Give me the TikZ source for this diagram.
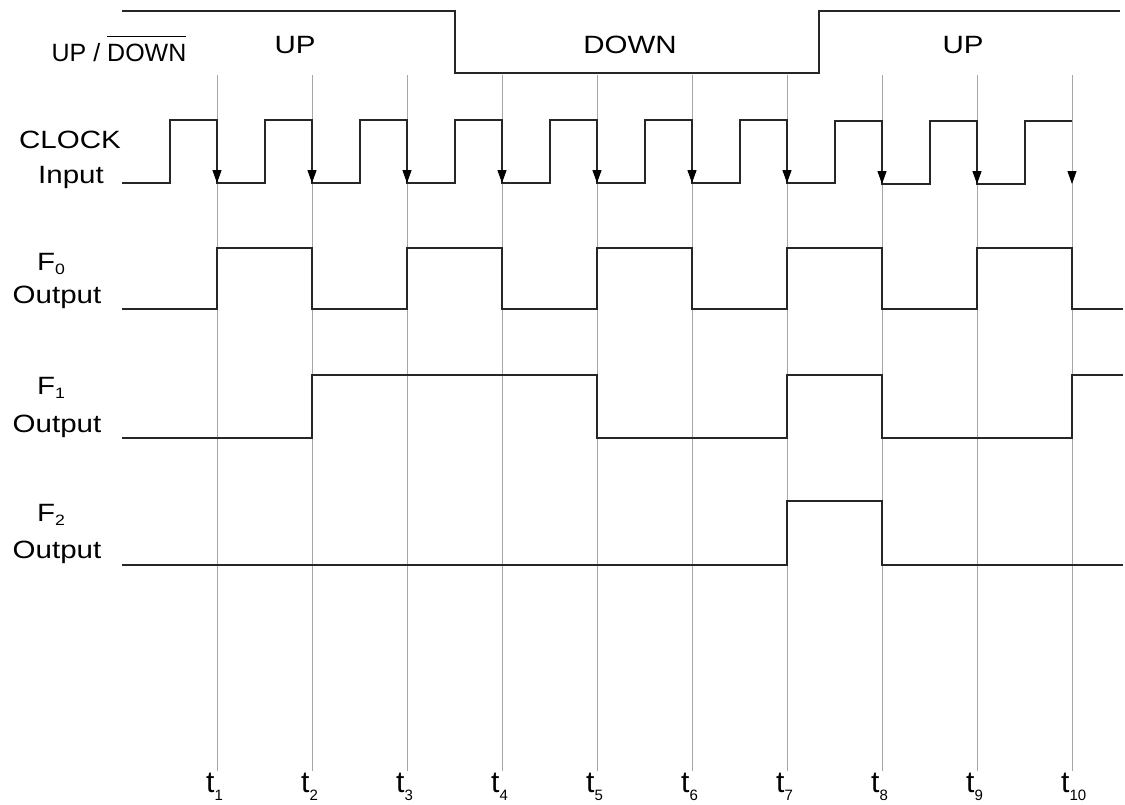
\documentclass[tikz,border=0pt]{standalone}
\usepackage{fontspec}
\setmainfont{Liberation Sans}
\newfontfamily\widefont{Liberation Sans}[FakeStretch=1.18]
\usetikzlibrary{arrows.meta}

\newcommand{\tsub}[2]{\raisebox{-#1}{\fontsize{15}{15}\selectfont #2}}
\newcommand{\ovl}[1]{\vbox{\hrule height 1.2pt\kern 6.5pt\hbox{#1}}}

\begin{document}
\begin{tikzpicture}[
  x=1pt, y=-1pt,
  every node/.style={inner sep=0pt},
  % Styles
  wave/.style={line width=1.2pt, color=black!85},
  tline/.style={line width=0.9pt, color=black!35},
  clkarr/.style={-{Triangle[length=13pt, width=9pt, black]}, line width=1.2pt, color=black!85},
  siglbl/.style={font=\widefont\fontsize{25}{28}\selectfont, anchor=base},
  flbl/.style={font=\widefont\fontsize{25}{28}\selectfont, anchor=base west},
  udlbl/.style={font=\fontsize{25}{28}\selectfont, anchor=base},
  tlbl/.style={font=\fontsize{30}{32}\selectfont, anchor=base west},
]
  \useasboundingbox (0,0) rectangle (1125,804);

  % ── TIME MARKERS ──────────────────────────────────────────
  \draw[tline] (217,75) -- (217,771) (312,75) -- (312,771) (407,75) -- (407,771)
    (502,75) -- (502,771) (597,75) -- (597,771) (692,75) -- (692,771)
    (787,75) -- (787,771) (882,75) -- (882,771) (977,75) -- (977,771)
    (1072,75) -- (1072,771);

  \node[tlbl] (t1) at (206,792) {t\tsub{8pt}{1}};
  \node[tlbl] (t2) at (301,792) {t\tsub{8pt}{2}};
  \node[tlbl] (t3) at (396,792) {t\tsub{8pt}{3}};
  \node[tlbl] (t4) at (491,792) {t\tsub{8pt}{4}};
  \node[tlbl] (t5) at (586,792) {t\tsub{8pt}{5}};
  \node[tlbl] (t6) at (681,792) {t\tsub{8pt}{6}};
  \node[tlbl] (t7) at (776,792) {t\tsub{8pt}{7}};
  \node[tlbl] (t8) at (871,792) {t\tsub{8pt}{8}};
  \node[tlbl] (t9) at (966,792) {t\tsub{8pt}{9}};
  \node[tlbl] (t10) at (1061,792) {t\tsub{8pt}{10}};

  % ── UP / DOWN CONTROL ─────────────────────────────────────
  \node[udlbl] (updown) at (119,61) {UP / \ovl{DOWN}};
  \draw[wave] (122,11) -- (455,11) -- (455,73) -- (819,73) -- (819,11) -- (1120,11);
  \node[siglbl] (upone) at (295,53) {UP};
  \node[siglbl] (down) at (630,53) {DOWN};
  \node[siglbl] (uptwo) at (963,53) {UP};

  % ── CLOCK INPUT ───────────────────────────────────────────
  \node[siglbl] (clock) at (70,148) {CLOCK};
  \node[siglbl] (input) at (71,183) {Input};
  \draw[wave] (122,183) -- (170,183) -- (170,120) -- (217,120) -- (217,183)
    -- (265,183) -- (265,120) -- (312,120) -- (312,183)
    -- (360,183) -- (360,120) -- (407,120) -- (407,183)
    -- (455,183) -- (455,120) -- (502,120) -- (502,183)
    -- (550,183) -- (550,120) -- (597,120) -- (597,183)
    -- (645,183) -- (645,120) -- (692,120) -- (692,183)
    -- (740,183) -- (740,120) -- (787,120) -- (787,183)
    -- (835,183) -- (835,121) -- (882,121) -- (882,184)
    -- (930,184) -- (930,121) -- (977,121) -- (977,184)
    -- (1025,184) -- (1025,121) -- (1072,121);

  % falling edges
  \draw[clkarr] (217,160) -- (217,183);
  \draw[clkarr] (312,160) -- (312,183);
  \draw[clkarr] (407,160) -- (407,183);
  \draw[clkarr] (502,160) -- (502,183);
  \draw[clkarr] (597,160) -- (597,183);
  \draw[clkarr] (692,160) -- (692,183);
  \draw[clkarr] (787,160) -- (787,183);
  \draw[clkarr] (882,160) -- (882,184);
  \draw[clkarr] (977,160) -- (977,184);
  \draw[clkarr, color=black!35, line width=0.9pt] (1072,160) -- (1072,184);

  % ── F0 OUTPUT ─────────────────────────────────────────────
  \node[flbl] (fzero) at (37,270) {F\tsub{4pt}{0}};
  \node[siglbl] (outzero) at (57,303) {Output};
  \draw[wave] (122,309) -- (217,309) -- (217,248) -- (312,248) -- (312,309)
    -- (407,309) -- (407,248) -- (502,248) -- (502,309)
    -- (597,309) -- (597,248) -- (692,248) -- (692,309)
    -- (787,309) -- (787,248) -- (882,248) -- (882,309)
    -- (977,309) -- (977,248) -- (1072,248) -- (1072,309) -- (1123,309);

  % ── F1 OUTPUT ─────────────────────────────────────────────
  \node[flbl] (fone) at (37,394) {F\tsub{4pt}{1}};
  \node[siglbl] (outone) at (57,432) {Output};
  \draw[wave] (122,438) -- (312,438) -- (312,375) -- (597,375) -- (597,438)
    -- (787,438) -- (787,375) -- (882,375) -- (882,438)
    -- (1072,438) -- (1072,375) -- (1123,375);

  % ── F2 OUTPUT ─────────────────────────────────────────────
  \node[flbl] (ftwo) at (37,521) {F\tsub{4pt}{2}};
  \node[siglbl] (outtwo) at (57,558) {Output};
  \draw[wave] (122,565) -- (787,565) -- (787,501) -- (882,501) -- (882,565) -- (1123,565);

\end{tikzpicture}
\end{document}
